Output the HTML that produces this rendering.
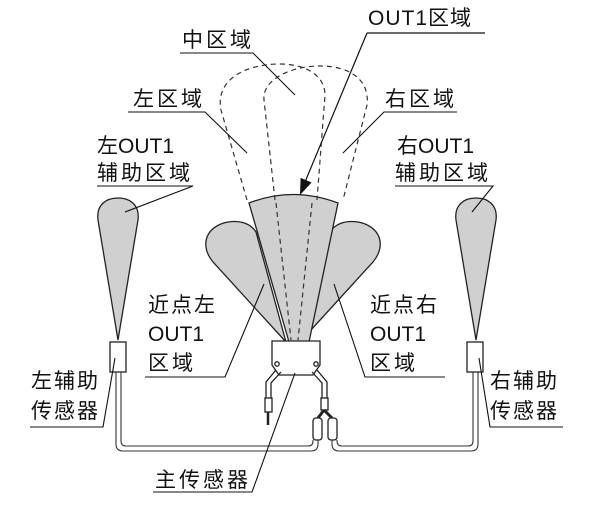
<!DOCTYPE html>
<html><head><meta charset="utf-8"><style>
html,body{margin:0;padding:0;background:#fff}
svg{display:block}
text{font-family:"Liberation Sans","Noto Sans CJK SC",sans-serif;font-size:21px;fill:#111}
</style></head><body>
<svg width="600" height="512" viewBox="0 0 600 512" xmlns="http://www.w3.org/2000/svg">
<g stroke="#222" stroke-width="1.3" fill="#d0d0d0">
 <path d="M286,342 L213,262 C199,245 206,226 228,222 C241,220 251,224 256,232 Z"/>
 <path d="M300,342 L373,262 C387,245 380,226 358,222 C345,220 335,224 330,232 Z"/>
 <path d="M289,342 L249,203 Q293,186 338,203 L309,342 Z"/>
 <path d="M118,340 L98,220 C96,205 106,198 118,198 C130,198 140,205 138,220 Z"/>
 <path d="M476,340 L456,220 C454,205 464,198 476,198 C488,198 498,205 496,220 Z"/>
</g>
<g stroke="#333" stroke-width="1.2" fill="none" stroke-dasharray="5,4">
 <path d="M247,200 L221,110 C215,80 245,64 280,64 C305,64 325,75 325,95 L317,200"/>
 <path d="M275,200 L264,100 C262,80 290,66 320,66 C350,66 370,80 367,105 L343,200"/>
 <path d="M276,203 L291,340"/>
 <path d="M312,203 L298,340"/>
</g>
<g stroke="#222" stroke-width="1.3" fill="#fff">
 <path d="M272,341 L320,341 L320,365 L313,375 L279,375 L272,365 Z"/>
 <circle cx="277" cy="364" r="2.2"/><circle cx="316" cy="364" r="2.2"/>
 <path d="M276,370 L266,382 L266,398 M281,372 L271,383 L271,398" fill="none"/>
 <rect x="265" y="398" width="7" height="14"/>
 <path d="M268,412 L268,425" stroke-width="2.5"/>
 <path d="M317,370 L327,382 L327,398 M312,372 L322,383 L322,398" fill="none"/>
 <rect x="321" y="398" width="7" height="12"/>
 <path d="M324,410 L318,418 M324,410 L332,418" stroke-width="3"/>
 <rect x="313" y="418" width="9" height="22" rx="3"/>
 <rect x="328" y="418" width="9" height="22" rx="3"/>
 <rect x="110" y="342" width="16" height="30"/>
 <rect x="467" y="342" width="16" height="30"/>
</g>
<g stroke="#333" stroke-width="1.1" fill="none">
 <path d="M116,372 L116,444 Q116,451 123,451 L311,451 Q318,451 318,444 L318,440"/>
 <path d="M121,372 L121,441 Q121,446 126,446 L308,446 Q313,446 313,441 L313,440"/>
 <path d="M478,372 L478,444 Q478,451 471,451 L339,451 Q332,451 332,444 L332,440"/>
 <path d="M473,372 L473,441 Q473,446 468,446 L342,446 Q337,446 337,441 L337,440"/>
</g>
<g stroke="#111" stroke-width="1.2" fill="none">
 <path d="M367,33 L485,33"/>
 <path d="M367,33 L305,182"/>
</g>
<path d="M300,195 L311.6,182.5 L300.6,177.9 Z" fill="#111"/>
<g stroke="#111" stroke-width="1.1" fill="none">
 <path d="M180,53 L253,53 L295,95"/>
 <path d="M128,112 L205,112 L247,153"/>
 <path d="M457,112 L384,112 L343,153"/>
 <path d="M97,186 L193,186 L125,212"/>
 <path d="M395,186 L493,186 L472,212"/>
 <path d="M145,377 L225,377 L264,284"/>
 <path d="M445,377 L365,377 L334,284"/>
 <path d="M30,427 L103,427 L115,358"/>
 <path d="M563,427 L490,427 L479,358"/>
 <path d="M153,492 L252,492 L295,373"/>
</g>
<g>
 <text x="368" y="25" letter-spacing="1">OUT1区域</text>
 <text x="182" y="47" letter-spacing="3">中区域</text>
 <text x="133" y="106" letter-spacing="3">左区域</text>
 <text x="385" y="106" letter-spacing="3">右区域</text>
 <text x="97" y="153">左OUT1</text>
 <text x="97" y="180" letter-spacing="3">辅助区域</text>
 <text x="397" y="153">右OUT1</text>
 <text x="395" y="180" letter-spacing="3">辅助区域</text>
 <text x="148" y="312" letter-spacing="2">近点左</text>
 <text x="148" y="341">OUT1</text>
 <text x="148" y="370" letter-spacing="3">区域</text>
 <text x="370" y="312" letter-spacing="2">近点右</text>
 <text x="370" y="341">OUT1</text>
 <text x="370" y="370" letter-spacing="3">区域</text>
 <text x="31" y="388" letter-spacing="2">左辅助</text>
 <text x="31" y="418" letter-spacing="2">传感器</text>
 <text x="490" y="388" letter-spacing="2">右辅助</text>
 <text x="490" y="418" letter-spacing="2">传感器</text>
 <text x="155" y="487" letter-spacing="3">主传感器</text>
</g>
</svg>
</body></html>
